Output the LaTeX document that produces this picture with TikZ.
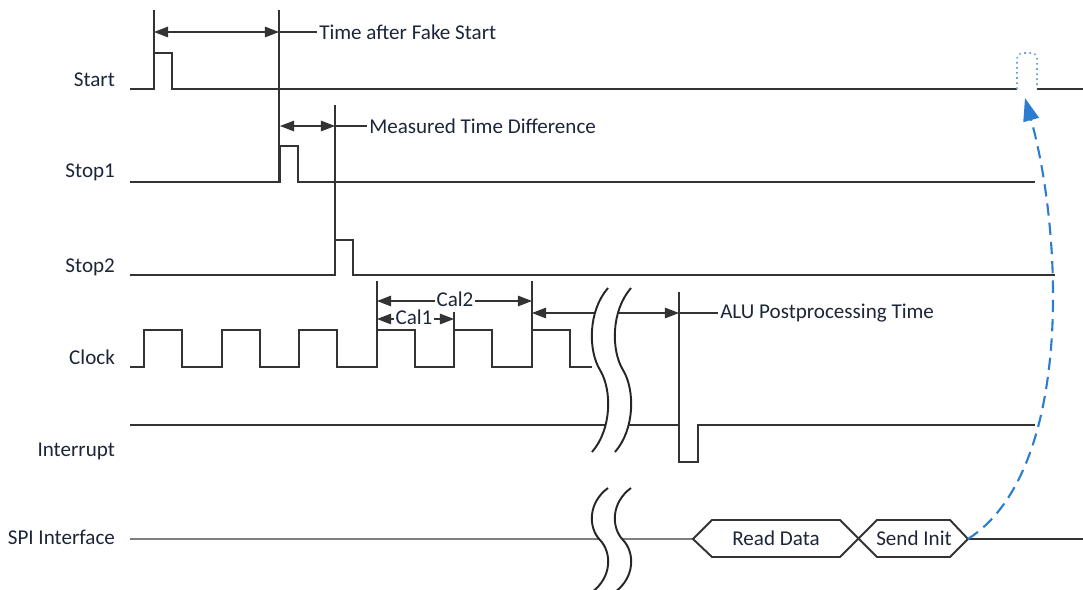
\documentclass[tikz,border=0pt]{standalone}
\usepackage{fontspec}
\setmainfont{Carlito}
\usetikzlibrary{arrows.meta}
\definecolor{sigcol}{HTML}{333333}
\definecolor{txtcol}{HTML}{1C2638}
\definecolor{linkcol}{HTML}{2A7DD1}
\tikzset{
  wave/.style={line width=1.3pt, draw=sigcol, line join=miter},
  guide/.style={line width=0.6pt, draw=sigcol},
  span/.style={guide, {Triangle[length=8pt, width=6pt]}-{Triangle[length=8pt, width=6pt]}},
  signame/.style={font=\fontsize{12}{14}\selectfont, text=txtcol, anchor=east, inner sep=1pt},
  remark/.style={font=\fontsize{12}{14}\selectfont, text=txtcol, inner sep=1pt},
}
\begin{document}
\begin{tikzpicture}[x=0.02cm, y=-0.02cm]
    \useasboundingbox (0, 0) rectangle (1083, 589);
    % signal names
    \node [signame] (lstart) at (117, 80) {Start};
    \node [signame] (lstopa) at (117, 172) {Stop1};
    \node [signame] (lstopb) at (117, 267) {Stop2};
    \node [signame] (lclock) at (117, 357) {Clock};
    \node [signame] (lint) at (117, 451) {Interrupt};
    \node [signame] (lspi) at (117, 537) {SPI Interface};

    % waveforms
    \draw [wave] (130, 89) -- (154, 89) -- (154, 53) -- (172, 53) -- (172, 89) -- (1017, 89);
    \draw [wave] (1037, 89) -- (1083, 89);
    \draw [linkcol!70, line width=0.9pt, dotted, rounded corners=3pt] (1017, 89) -- (1017, 53) -- (1037, 53) -- (1037, 89);
    \draw [wave] (130, 182) -- (280, 182) -- (280, 146) -- (298, 146) -- (298, 182) -- (1035, 182);
    \draw [wave] (130, 275) -- (335, 275) -- (335, 240) -- (353, 240) -- (353, 275) -- (1055, 275);
    \draw [wave] (130, 367) foreach \t in {144, 222, 299, 377, 454, 532} {
        -- (\t, 367) -- (\t, 330) -- (\t + 38, 330) -- (\t + 38, 367)
    } -- (592, 367);
    \draw [wave] (130, 425) -- (679, 425) -- (679, 462) -- (698, 462) -- (698, 425) -- (1035, 425);
    \draw [line width=0.7pt, draw=gray] (130, 539) -- (693, 539);
    \draw [wave] (968, 539) -- (1083, 539);

    % SPI frames
    \draw [wave, line width=1.1pt] (693, 539) -- (712, 520) -- (840, 520) -- (877, 557) -- (950, 557) -- (968, 539)
        -- (950, 520) -- (877, 520) -- (840, 557) -- (712, 557) -- cycle;
    \node [remark] (rd) at (776, 538) {Read Data};
    \node [remark] (si) at (914, 538) {Send Init};
    \coordinate (siend) at (968, 539);
    \coordinate (fake) at (1025, 98);
    \draw [linkcol, line width=1.2pt, dash pattern=on 7pt off 4pt, -{Triangle[length=13pt, width=9pt]}]
        (siend) .. controls (1075, 470) and (1062, 230) .. (fake);

    % time after fake start
    \draw [guide] (154, 10) -- (154, 53);
    \draw [guide] (279, 10) -- (279, 182);
    \draw [span] (154, 32) -- (279, 32);
    \draw [guide] (279, 32) -- (317, 32) node [remark, anchor=west] (tfake) {Time after Fake Start};

    % measured time difference
    \draw [guide] (335, 105) -- (335, 240);
    \draw [span] (280, 126) -- (335, 126);
    \draw [guide] (335, 126) -- (367, 126) node [remark, anchor=west] (tmeas) {Measured Time Difference};

    % calibration
    \draw [guide] (377, 281) -- (377, 330);
    \draw [guide] (454, 312) -- (454, 330);
    \draw [guide] (532, 281) -- (532, 330);
    \draw [span] (377, 301) -- (532, 301);
    \node [remark, fill=white] (cal2) at (455, 299) {Cal2};
    \draw [span] (377, 319) -- (454, 319);
    \node [remark, fill=white] (cal1) at (414, 317) {Cal1};

    % ALU postprocessing
    \draw [guide] (679, 292) -- (679, 425);
    \draw [span] (532, 313) -- (679, 313);
    \draw [guide] (679, 313) -- (718, 313) node [remark, anchor=west] (talu) {ALU Postprocessing Time};

    % time breaks
    \foreach \y/\h in {288/164, 488/104} {
        \fill [white] (608, \y) .. controls (588, \y + 0.14*\h) and (588, \y + 0.38*\h) .. (600, \y + 0.5*\h)
            .. controls (612, \y + 0.62*\h) and (612, \y + 0.86*\h) .. (592, \y + \h)
            -- (615, \y + \h) .. controls (635, \y + 0.86*\h) and (635, \y + 0.62*\h) .. (623, \y + 0.5*\h)
            .. controls (611, \y + 0.38*\h) and (611, \y + 0.14*\h) .. (631, \y) -- cycle;
        \foreach \dx in {0, 23} {
            \draw [line width=1.1pt, draw=black!85] (608 + \dx, \y) .. controls (588 + \dx, \y + 0.14*\h) and (588 + \dx, \y + 0.38*\h) .. (600 + \dx, \y + 0.5*\h)
                .. controls (612 + \dx, \y + 0.62*\h) and (612 + \dx, \y + 0.86*\h) .. (592 + \dx, \y + \h);
        }
    }
\end{tikzpicture}
\end{document}
